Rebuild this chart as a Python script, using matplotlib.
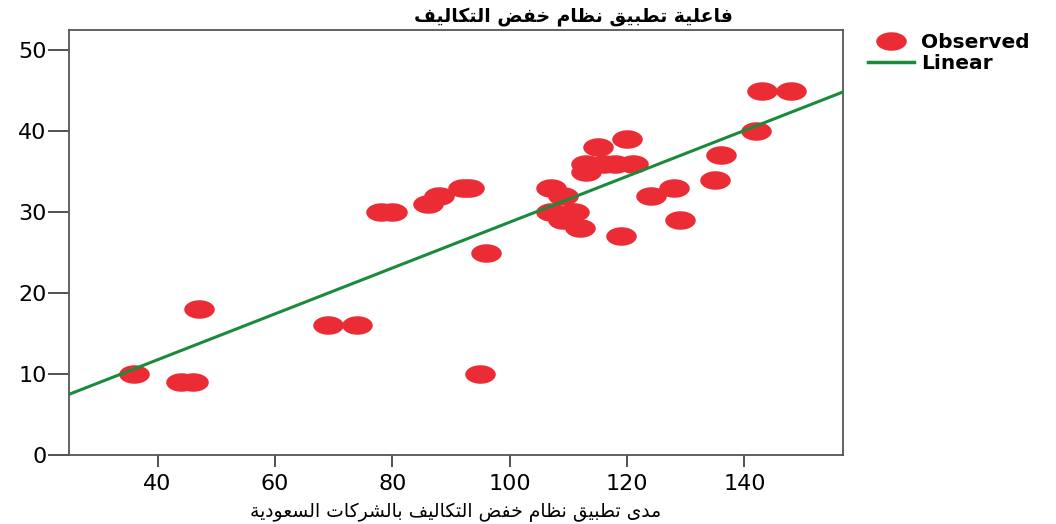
import numpy as np
import matplotlib
matplotlib.use("Agg")
import matplotlib.pyplot as plt
from matplotlib.path import Path
from matplotlib.lines import Line2D

# data
x_vals = [36, 44, 46, 47, 69, 74, 78, 80, 86, 88, 92, 93, 95, 96,
          107, 109, 107, 109, 111, 112, 113, 113, 116, 118, 121, 115,
          120, 119, 124, 128, 129, 135, 136, 142, 143, 148]
y_vals = [10, 9, 9, 18, 16, 16, 30, 30, 31, 32, 33, 33, 10, 25,
          33, 32, 30, 29, 30, 28, 35, 36, 36, 36, 36, 38,
          39, 27, 32, 33, 29, 34, 37, 40, 45, 45]
x_ticks = [40, 60, 80, 100, 120, 140]
y_ticks = [0, 10, 20, 30, 40, 50]

# fitted line as drawn in the reference (overlapping dots hide some cases)
fit_intercept = 0.44
fit_slope = 0.2832

title_txt = "فاعلية تطبيق نظام خفض التكاليف"
xlabel_txt = "مدى تطبيق نظام خفض التكاليف بالشركات السعودية"

# matplotlib does no arabic shaping, so map letters to presentation forms
FORMS = {
    'ا': (0xFE8D, 2), 'ب': (0xFE8F, 4), 'ة': (0xFE93, 2), 'ت': (0xFE95, 4),
    'خ': (0xFEA5, 4), 'د': (0xFEA9, 2), 'ر': (0xFEAD, 2), 'س': (0xFEB1, 4),
    'ش': (0xFEB5, 4), 'ض': (0xFEBD, 4), 'ط': (0xFEC1, 4), 'ظ': (0xFEC5, 4),
    'ع': (0xFEC9, 4), 'ف': (0xFED1, 4), 'ق': (0xFED5, 4), 'ك': (0xFED9, 4),
    'ل': (0xFEDD, 4), 'م': (0xFEE1, 4), 'ن': (0xFEE5, 4), 'ه': (0xFEE9, 4),
    'و': (0xFEED, 2), 'ى': (0xFEEF, 2), 'ي': (0xFEF1, 4),
}

def shape(text):
    out = []
    for i, ch in enumerate(text):
        if ch not in FORMS:
            out.append(ch)
            continue
        base, n = FORMS[ch]
        prev = text[i - 1] if i > 0 else ' '
        nxt = text[i + 1] if i + 1 < len(text) else ' '
        join_prev = prev in FORMS and FORMS[prev][1] == 4
        join_next = n == 4 and nxt in FORMS
        if join_prev and join_next:
            off = 3
        elif join_prev:
            off = 1
        elif join_next:
            off = 2
        else:
            off = 0
        out.append(chr(base + off))
    return ''.join(reversed(out))

red = '#EC2C34'
green = '#1B8A3B'

# the reference is stretched sideways, so the dots are ellipses
t = np.linspace(0, 2 * np.pi, 60)
ellipse = Path(np.column_stack([1.65 * np.cos(t), np.sin(t)]), closed=True)

plt.rcParams['font.family'] = ['DejaVu Sans']

fig = plt.figure(figsize=(10.56, 5.24), dpi=100)
ax = fig.add_axes([69 / 1056, 1 - 455 / 524, (843 - 69) / 1056, (455 - 30) / 524])

ax.scatter(x_vals, y_vals, marker=ellipse, s=22 ** 2, color=red,
           linewidths=0, zorder=2)

xl = np.array([24.9, 156.8])
ax.plot(xl, fit_intercept + fit_slope * xl, color=green, lw=2.2, zorder=3)

ax.set_xlim(24.9, 156.8)
ax.set_ylim(0, 52.5)
ax.set_xticks(x_ticks)
ax.set_yticks(y_ticks)
ax.tick_params(axis='y', length=15, width=1.2, pad=1, labelsize=16, color='#333333')
ax.tick_params(axis='x', length=8.6, width=1.2, pad=5, labelsize=16, color='#333333')
for s in ax.spines.values():
    s.set_color('#555555')
    s.set_linewidth(1.3)

fig.text(573 / 1056, 1 - 16 / 524, shape(title_txt), ha='center', va='center',
         fontsize=13.5, fontweight='bold')
ax.set_xlabel(shape(xlabel_txt), fontsize=13.5, labelpad=6)

handles = [
    Line2D([], [], marker=ellipse, ms=22, ls='none', color=red, mew=0),
    Line2D([], [], color=green, lw=2.5),
]
leg = fig.legend(handles, ['Observed', 'Linear'], loc='upper left',
                 bbox_to_anchor=(860 / 1056, 1 - 25 / 524), frameon=False,
                 prop={'weight': 'bold', 'size': 14.5}, handlelength=2.3,
                 handletextpad=0.35, labelspacing=0.1, borderaxespad=0)

fig.savefig('out.png', dpi=100)
